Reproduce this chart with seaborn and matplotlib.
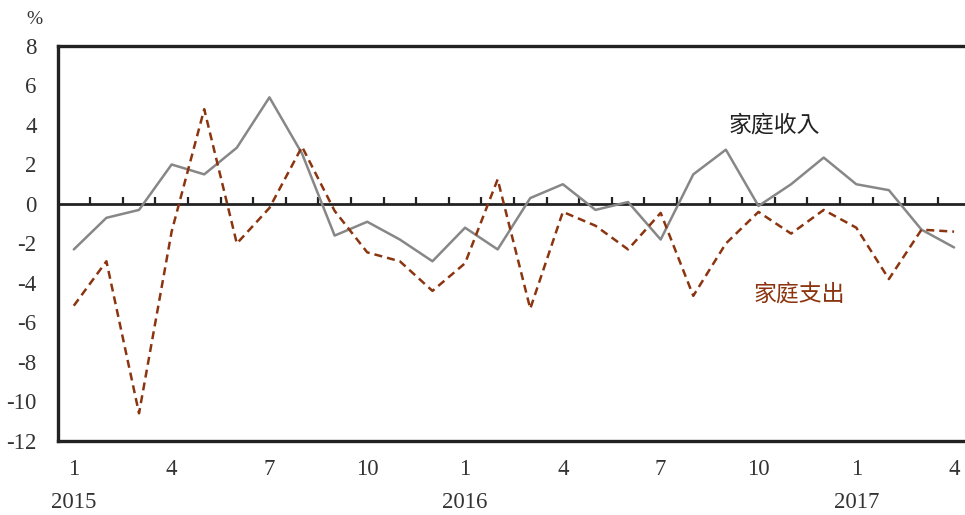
import matplotlib
matplotlib.use("Agg")
import matplotlib.pyplot as plt
import matplotlib.transforms as mtransforms
import numpy as np
import pandas as pd
import seaborn as sns

# Monthly year-on-year change (%), Jan 2015 - Apr 2017
months = list(range(1, 29))
income = [-2.3, -0.7, -0.3, 2.0, 1.5, 2.85, 5.4, 2.55, -1.6, -0.9,
          -1.8, -2.9, -1.2, -2.3, 0.3, 1.0, -0.3, 0.1, -1.8, 1.5,
          2.75, -0.1, 1.0, 2.35, 1.0, 0.7, -1.3, -2.2]
expense = [-5.15, -2.9, -10.6, -1.4, 4.8, -2.0, -0.2, 2.9, -0.35, -2.45,
           -2.9, -4.4, -3.0, 1.25, -5.3, -0.4, -1.1, -2.3, -0.45, -4.65,
           -2.0, -0.4, -1.5, -0.3, -1.2, -3.8, -1.3, -1.4]
tick_months = [1, 4, 7, 10, 13, 16, 19, 22, 25, 28]
tick_labels = ["1", "4", "7", "10", "1", "4", "7", "10", "1", "4"]
year_months = [1, 13, 25]
year_labels = ["2015", "2016", "2017"]
y_ticks = list(range(-12, 9, 2))

df = pd.DataFrame({"month": months, "income": income, "expense": expense})

sns.set_theme(style="white")
plt.rcParams["font.family"] = ["Liberation Serif", "DejaVu Serif"]

fig = plt.figure(figsize=(9.65, 5.15), dpi=100)
ax = fig.add_axes([0.0596, 0.1437, 0.946, 0.767])

grey = "#878787"
brown = "#8B3510"
dark = "#222222"
txt = "#333333"

sns.lineplot(data=df, x="month", y="income", ax=ax, color=grey, linewidth=1.8)
sns.lineplot(data=df, x="month", y="expense", ax=ax, color=brown,
             linewidth=1.8, linestyle=(0, (3.2, 2.0)))

ax.set_xlim(0.5, 28.5)
ax.set_ylim(-12, 8)

# zero line with month-boundary marks
ax.axhline(0, color=dark, linewidth=2.0, zorder=1)
bounds = np.arange(1.5, 28.5, 1.0)
ax.vlines(bounds, 0, 0.34, color=dark, linewidth=1.6, zorder=1)

for s in ax.spines.values():
    s.set_color(dark)
    s.set_linewidth(2.4)
    s.set_visible(True)

ax.set_yticks(y_ticks)
ax.set_yticklabels([str(v) for v in y_ticks])
ax.set_xticks(tick_months)
ax.set_xticklabels(tick_labels)
ax.tick_params(axis="y", length=0, pad=15, labelsize=16.5, labelcolor=txt)
ax.tick_params(axis="x", length=0, pad=13, labelsize=16.5, labelcolor=txt)
ax.set_xlabel("")
ax.set_ylabel("")

trans = mtransforms.blended_transform_factory(ax.transData, fig.transFigure)
for m, lab in zip(year_months, year_labels):
    ax.text(m, 0.004, lab, transform=trans, ha="center", va="bottom",
            fontsize=16.5, color=txt)

fig.text(0.036, 0.963, "%", ha="center", va="center", fontsize=14, color=txt)

cjk = ["Noto Sans CJK TC", "DejaVu Sans"]
ax.text(22.5, 4.0, "家庭收入", ha="center", va="center", fontsize=16.5,
        color="#222222", family=cjk, weight="medium")
ax.text(23.25, -4.6, "家庭支出", ha="center", va="center", fontsize=16.5,
        color=brown, family=cjk, weight="medium")

fig.savefig("out.png", dpi=100, facecolor="white")
